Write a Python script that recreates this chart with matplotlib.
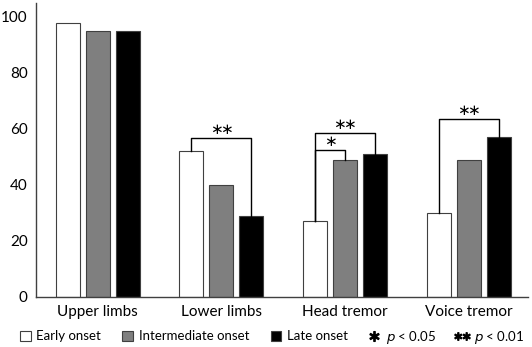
import numpy as np
import matplotlib
matplotlib.use("Agg")
import matplotlib.pyplot as plt
from matplotlib.patches import Patch
from matplotlib.lines import Line2D

plt.rcParams['font.family'] = ['Lato', 'DejaVu Sans']

### Data

categories = ["Upper limbs", "Lower limbs", "Head tremor", "Voice tremor"]
early = [98, 52, 27, 30]
intermediate = [95, 40, 49, 49]
late = [95, 29, 51, 57]
series_names = ["Early onset", "Intermediate onset", "Late onset"]
colors = ["white", "#7f7f7f", "black"]
yticks = [0, 20, 40, 60, 80, 100]

# significance brackets: (category index, bar a, bar b, bracket height, stars)
brackets = [
   (1, 0, 2, 56.8, 2),
   (2, 0, 1, 52.5, 1),
   (2, 0, 2, 58.6, 2),
   (3, 0, 2, 63.6, 2),
]

bar_w = 0.194
step = 0.243

def _star_text(n):
   return r"$" + r"\!\!".join([r"\ast"] * n) + r"$"

fig = plt.figure(figsize=(5.32, 3.47), dpi=100)
ax = fig.add_axes([36 / 532, 50 / 347, 492 / 532, 294 / 347])

x = np.arange(len(categories))
values = [early, intermediate, late]
for i, (vals, col) in enumerate(zip(values, colors)):
   ax.bar(x + (i - 1) * step, vals, width=bar_w, color=col,
          edgecolor="#404040", linewidth=0.8, zorder=2)

for cat, a, b, h, n in brackets:
   xa = cat + (a - 1) * step
   xb = cat + (b - 1) * step
   ya = values[a][cat]
   yb = values[b][cat]
   ax.plot([xa, xa, xb, xb], [ya, h, h, yb], color="black", lw=1.0, zorder=3)
   ax.text((xa + xb) / 2, h + 0.3, _star_text(n), ha="center", va="bottom",
           fontsize=11, color="black")

ax.set_xlim(-0.5, 3.48)
ax.set_ylim(0, 105)
ax.set_xticks(x)
ax.set_xticklabels(categories, fontsize=11)
ax.set_yticks(yticks)
ax.tick_params(axis="both", length=0, labelsize=11, colors="black")
ax.tick_params(axis="x", pad=6)
ax.tick_params(axis="y", pad=6)
for s in ["top", "right"]:
   ax.spines[s].set_visible(False)
for s in ["left", "bottom"]:
   ax.spines[s].set_color("#404040")
   ax.spines[s].set_linewidth(1.0)

handles = [Patch(facecolor=c, edgecolor="#404040", linewidth=0.8) for c in colors]
handles += [
   Line2D([], [], linestyle="none", marker=r"$\ast$", color="black", markersize=7),
   Line2D([], [], linestyle="none", marker=r"$\ast\!\!\ast$", color="black", markersize=11),
]
labels = series_names + [r"$p$ < 0.05", r"$p$ < 0.01"]
fig.legend(handles, labels, loc="center", bbox_to_anchor=(0.511, 10 / 347),
           ncol=5, frameon=False, fontsize=9.5, handlelength=0.8, handleheight=0.8,
           handletextpad=0.45, columnspacing=1.6, borderaxespad=0, borderpad=0)

fig.savefig("out.png", dpi=100)
